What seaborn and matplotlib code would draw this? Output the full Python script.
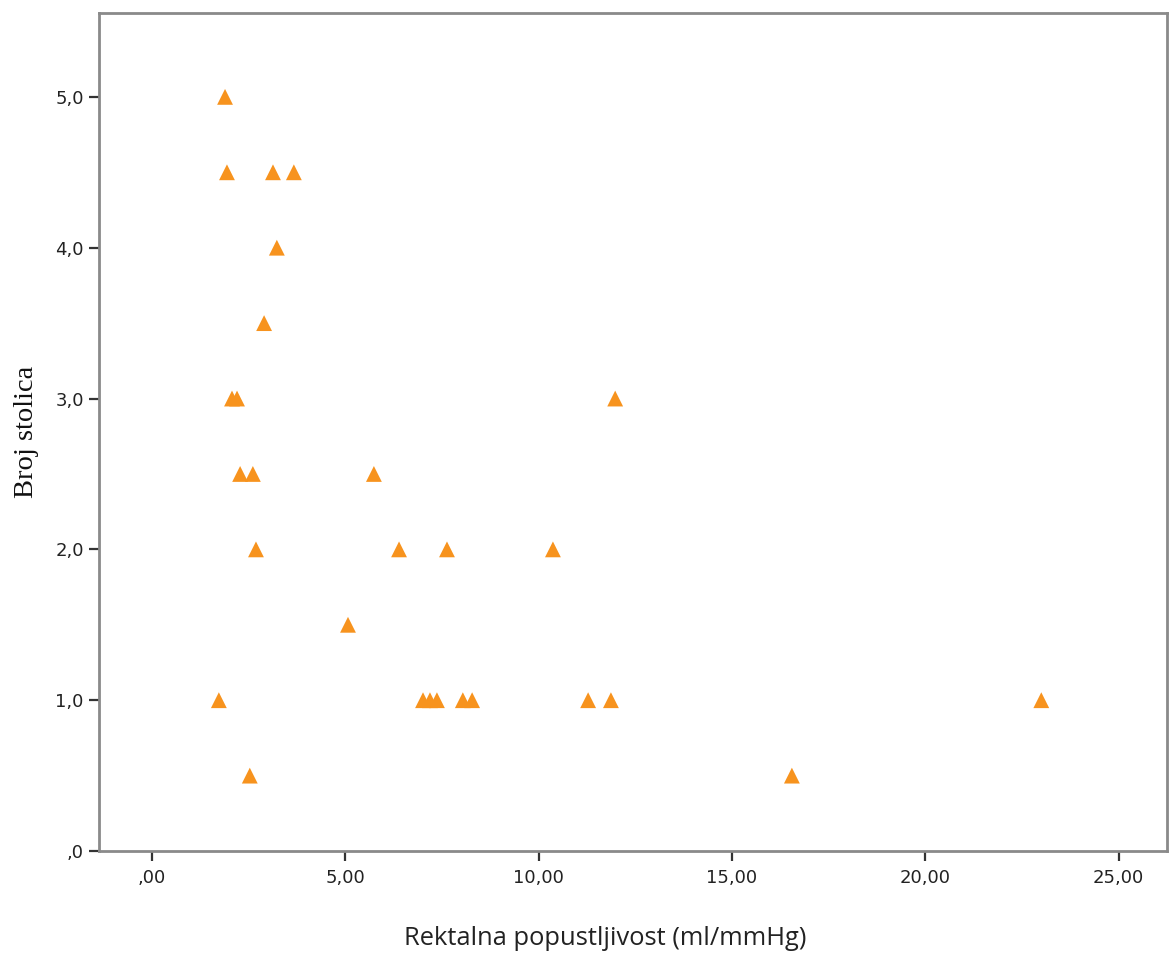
import pandas as pd
import seaborn as sns
import matplotlib.pyplot as plt

# podaci ocitani sa slike
popustljivost = [1.89, 1.94, 3.13, 3.67, 3.23, 2.90, 2.07, 2.20, 11.98, 2.28, 2.61, 5.74,
                 2.69, 6.39, 7.63, 10.37, 5.07, 1.73, 7.01, 7.19, 7.37, 8.04, 8.28, 11.28,
                 11.87, 23.0, 2.53, 16.55]
broj_stolica = [5.0, 4.5, 4.5, 4.5, 4.0, 3.5, 3.0, 3.0, 3.0, 2.5, 2.5, 2.5,
                2.0, 2.0, 2.0, 2.0, 1.5, 1.0, 1.0, 1.0, 1.0, 1.0, 1.0, 1.0,
                1.0, 1.0, 0.5, 0.5]

x_ticks = [0, 5, 10, 15, 20, 25]
x_tick_labels = [",00", "5,00", "10,00", "15,00", "20,00", "25,00"]
y_ticks = [0, 1, 2, 3, 4, 5]
y_tick_labels = [",0", "1,0", "2,0", "3,0", "4,0", "5,0"]

df = pd.DataFrame({"x": popustljivost, "y": broj_stolica})

sns.set_style("white")
plt.rcParams["font.family"] = ["DejaVu Sans"]
fig = plt.figure(figsize=(11.7, 9.56), dpi=100)
ax = fig.add_axes([0.0846, 0.1098, 0.9128, 0.8766])

sns.scatterplot(data=df, x="x", y="y", marker="^", s=130, color="#F7931E",
                edgecolor="none", ax=ax)

ax.set_xlim(-1.37, 26.25)
ax.set_ylim(0, 5.556)
ax.set_xticks(x_ticks)
ax.set_xticklabels(x_tick_labels)
ax.set_yticks(y_ticks)
ax.set_yticklabels(y_tick_labels)
ax.tick_params(axis="both", which="major", direction="out", length=7, width=1.6,
               color="#333333", labelsize=13, labelcolor="#222222",
               bottom=True, left=True, top=False, right=False)
ax.tick_params(axis="x", pad=6)
ax.tick_params(axis="y", pad=4)

for sp in ax.spines.values():
    sp.set_visible(True)
    sp.set_color("#8a8a8a")
    sp.set_linewidth(2)

ax.set_xlabel("Rektalna popustljivost (ml/mmHg)", fontsize=18.4, family="Open Sans",
              color="#222222")
ax.xaxis.set_label_coords(0.474, -0.089)
ax.set_ylabel("Broj stolica", fontsize=20.5, family="Liberation Serif",
              color="#111111")
ax.yaxis.set_label_coords(-0.056, 0.5)

plt.savefig("out.png", dpi=100)
